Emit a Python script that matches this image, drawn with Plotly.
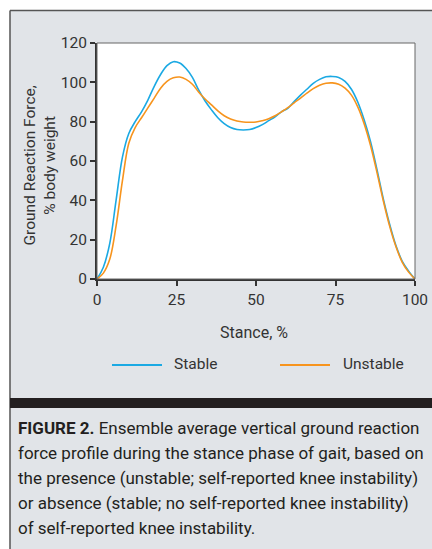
import plotly.graph_objects as go

stance = list(range(0, 101, 2))
stable = [0, 6, 18, 40, 62, 74, 80, 85, 91, 98, 104, 108.5, 110.5, 109.8, 107, 102.5,
          96, 90.5, 86, 82, 79, 77, 76, 75.8, 76, 77, 78.5, 80.5, 82.5, 85, 86.8,
          90.2, 93.5, 96.5, 99.5, 101.5, 102.8, 103, 102.5, 100.5, 96.5, 90, 81, 70,
          56, 41, 28, 17, 9, 4, 0]
unstable = [0, 3, 10, 27, 50, 69, 77, 82, 87, 92, 97, 100.5, 102.3, 102.7, 101.5, 99,
            95, 91.5, 88.5, 85.5, 83, 81.3, 80.3, 79.8, 79.7, 79.8, 80.5, 81.5, 83,
            85, 87.1, 89.6, 92, 94.5, 96.8, 98.5, 99.5, 99.7, 99, 97, 93.5, 87.5, 79,
            68, 54.5, 40, 27, 16.5, 8.5, 3.5, 0]
series_names = ["Stable", "Unstable"]
x_ticks = [0, 25, 50, 75, 100]
y_ticks = [0, 20, 40, 60, 80, 100, 120]
caption_lines = [
    "<b>FIGURE 2.</b> Ensemble average vertical ground reaction",
    "force profile during the stance phase of gait, based on",
    "the presence (unstable; self-reported knee instability)",
    "or absence (stable; no self-reported knee instability)",
    "of self-reported knee instability.",
]

W, H = 432, 549
L, R, T, B = 97, 415, 43, 279
FONT = "Roboto, sans-serif"
TXT = "#333333"
BLUE = "#1ba9e3"
ORANGE = "#f7941d"
PANEL = "#e1e4e8"


def px(xp):
    return (xp - L) / (R - L)


def py(yp):
    return (B - yp) / (B - T)


fig = go.Figure()
fig.add_trace(go.Scatter(x=stance, y=stable, mode="lines", name=series_names[0],
                         line=dict(color=BLUE, width=1.6, shape="spline", smoothing=1.0),
                         showlegend=False))
fig.add_trace(go.Scatter(x=stance, y=unstable, mode="lines", name=series_names[1],
                         line=dict(color=ORANGE, width=1.6, shape="spline", smoothing=1.0),
                         showlegend=False))

shapes = []
shapes.append(dict(type="rect", xref="paper", yref="paper", x0=px(-5), x1=px(W + 5),
                   y0=py(-5), y1=py(10.5), fillcolor="white", line=dict(width=0)))
shapes.append(dict(type="rect", xref="paper", yref="paper", x0=px(-5), x1=px(10),
                   y0=py(H + 5), y1=py(-5), fillcolor="white", line=dict(width=0)))
shapes.append(dict(type="line", xref="paper", yref="paper", x0=px(10), x1=px(W + 5),
                   y0=py(10.5), y1=py(10.5), line=dict(color="#555555", width=1.5)))
shapes.append(dict(type="line", xref="paper", yref="paper", x0=px(10), x1=px(10),
                   y0=py(10.5), y1=py(H + 5), line=dict(color="#555555", width=1.5)))
shapes.append(dict(type="rect", xref="paper", yref="paper", x0=0, x1=1, y0=0, y1=1,
                   line=dict(color="#666666", width=1), layer="above"))
shapes.append(dict(type="rect", xref="paper", yref="paper", x0=px(10), x1=px(W + 5),
                   y0=py(408), y1=py(398), fillcolor="#231f20", line=dict(width=0)))
shapes.append(dict(type="line", xref="paper", yref="paper", x0=px(112), x1=px(162),
                   y0=py(365), y1=py(365), line=dict(color=BLUE, width=2.2)))
shapes.append(dict(type="line", xref="paper", yref="paper", x0=px(280), x1=px(330),
                   y0=py(365), y1=py(365), line=dict(color=ORANGE, width=2.2)))

annotations = []
annotations.append(dict(text=series_names[0], xref="paper", yref="paper", x=px(172), y=py(364),
                        xanchor="left", yanchor="middle", showarrow=False,
                        font=dict(family=FONT, size=15.5, color=TXT)))
annotations.append(dict(text=series_names[1], xref="paper", yref="paper", x=px(341), y=py(364),
                        xanchor="left", yanchor="middle", showarrow=False,
                        font=dict(family=FONT, size=15.5, color=TXT)))
annotations.append(dict(text="Ground Reaction Force,<br>% body weight", xref="paper", yref="paper",
                        x=px(39.5), y=py(166), textangle=-90, xanchor="center", yanchor="middle",
                        showarrow=False, font=dict(family=FONT, size=15.5, color=TXT)))
annotations.append(dict(text="Stance, %", xref="paper", yref="paper", x=px(254), y=py(332),
                        xanchor="center", yanchor="middle", showarrow=False,
                        font=dict(family=FONT, size=16, color=TXT)))
for i, line in enumerate(caption_lines):
    annotations.append(dict(text=line, xref="paper", yref="paper", x=px(16), y=py(428 + 25 * i),
                            xanchor="left", yanchor="middle", showarrow=False,
                            font=dict(family=FONT, size=17, color="#231f20")))

fig.update_layout(
    width=W, height=H,
    margin=dict(l=L, r=W - R, t=T, b=H - B, pad=0),
    paper_bgcolor=PANEL, plot_bgcolor="white",
    shapes=shapes, annotations=annotations,
    xaxis=dict(range=[0, 100], tickvals=x_ticks, showgrid=False, zeroline=False,
               automargin=False,
               showline=True, linecolor="#333333", linewidth=2, ticks="outside",
               ticklen=5, tickwidth=1.5, tickcolor="#333333",
               tickfont=dict(family=FONT, size=15.5, color=TXT)),
    yaxis=dict(range=[0, 120], tickvals=y_ticks, showgrid=False, zeroline=False,
               automargin=False,
               showline=True, linecolor="#333333", linewidth=2, ticks="outside",
               ticklen=5, tickwidth=1.5, tickcolor="#333333",
               tickfont=dict(family=FONT, size=15.5, color=TXT)),
)

fig.write_html("out.html", config={"displayModeBar": False},
               post_script="document.body.style.margin='0';")
